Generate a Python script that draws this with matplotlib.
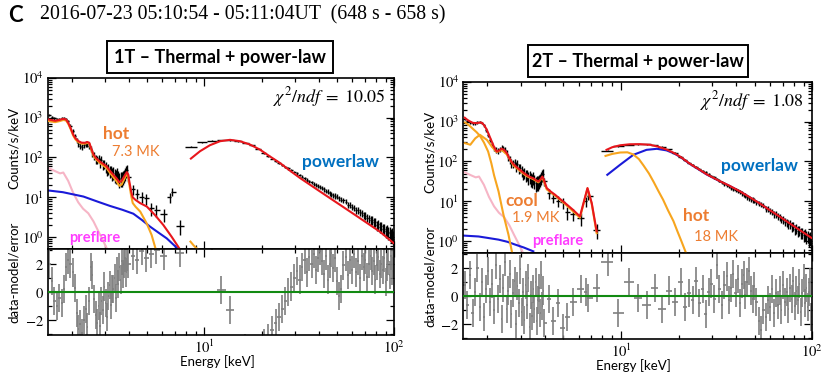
import numpy as np
import matplotlib
matplotlib.use('Agg')
import matplotlib.pyplot as plt
from matplotlib.ticker import FixedLocator, NullFormatter, FuncFormatter, MultipleLocator, FixedFormatter
from matplotlib.patches import Rectangle

plt.rcParams['mathtext.fontset'] = 'stix'
plt.rcParams['font.family'] = ['Lato', 'DejaVu Sans']

# ---------------- data (shared by both fits) ----------------
energy_lo = [1.525, 1.575, 1.625, 1.675, 1.725, 1.775, 1.825, 1.875, 1.925, 1.975,
             2.025, 2.075, 2.125, 2.175, 2.225, 2.275, 2.325, 2.375, 2.425, 2.475,
             2.525, 2.575, 2.625, 2.675, 2.725, 2.775, 2.825, 2.875, 2.925, 2.975,
             3.025, 3.075, 3.125, 3.175, 3.225, 3.275, 3.325, 3.375, 3.425, 3.475,
             3.525, 3.575, 3.625, 3.675, 3.725, 3.775, 3.825, 3.875, 3.925, 3.975,
             4.2, 4.4, 4.7, 4.95, 5.25, 5.6, 6.15, 6.6, 6.75, 7.45]
counts_lo = [1150, 1020, 950, 900, 900, 950, 980, 930, 800, 620,
             460, 350, 270, 215, 195, 185, 200, 220, 215, 195,
             165, 130, 110, 92, 88, 95, 75, 88, 68, 70,
             58, 50, 52, 45, 47, 40, 42, 37, 35, 40,
             33, 29, 31, 30, 33, 36, 40, 46, 48, 32,
             16, 12.5, 10.5, 9.5, 5.4, 4.8, 3.8, 10, 14, 1.95]
energy_hi = [8.5, 9.7, 11.0, 12.3, 13.6, 15.0, 16.4, 17.8, 19.2, 20.6,
             21.7, 22.7, 23.7, 24.7, 25.7, 26.7, 27.7, 28.7, 29.7, 30.7,
             31.7, 32.7, 33.7, 34.7, 35.7, 36.7, 37.7, 38.7, 39.7, 40.7,
             41.7, 42.7, 43.7, 44.7, 45.7, 46.7, 47.7, 48.7, 49.7, 51.0,
             52.5, 54.0, 55.5, 57.0, 58.5, 60.0, 61.5, 63.0, 64.5, 66.0,
             67.5, 69.0, 70.5, 72.0, 73.5, 75.0, 76.5, 78.0, 79.5, 81.0,
             82.5, 84.0, 85.5, 87.0, 88.5, 90.0, 91.5, 93.0, 94.5, 96.0,
             97.5, 99.0]
counts_hi = [188, 240, 262, 270, 268, 255, 232, 200, 165, 130,
             108, 94, 82, 73, 66, 59, 53, 48, 43.5, 40,
             36.5, 33, 30.5, 27.5, 25.5, 24, 22, 20.5, 19, 18.2,
             17, 16, 14.5, 14, 12.6, 12.2, 11.2, 11, 10.5, 9.6,
             8.8, 8.4, 7.8, 6.6, 6.6, 5.8, 5.5, 4.8, 4.7, 4.2,
             4.0, 3.6, 3.5, 3.1, 3.0, 2.75, 2.7, 2.35, 2.4, 2.05,
             2.1, 1.85, 1.9, 1.65, 1.65, 1.45, 1.5, 1.3, 1.38, 1.15,
             1.25, 1.05]
live_time_s = 4.0

# ---------------- residuals ----------------
resid1_lo = [2.0, 0.8, -0.6, -1.0, -0.4, -0.8, 0.2, 1.8, 2.3, 2.0,
             1.4, 0.3, -1.5, -2.6, -2.3, -2.9, -2.0, -1.2, -2.5, -0.6,
             1.8, 1.2, -0.5, -1.6, -2.2, -1.0, -2.4, -0.6, -1.3, 0.4,
             -0.8, -1.8, -0.3, 0.5, -0.9, 0.2, 0.2, 1.0, -0.4, 1.5,
             0.6, 1.8, 0.9, 2.2, 1.3, 2.0, 2.4, 1.4, 2.5, 2.0,
             2.6, 2.3, 2.9, 2.4, 2.7, 3.0, 2.6, 4.5, 5.0, 2.8]
resid1_hi = [6.0, 5.0, 4.0, 0.15, -1.25, 4.0, -4.0, -5.0, -5.0, -3.6,
             -3.3, -2.7, -2.2, -1.8, -1.2, -0.6, 0.0, 0.4, 1.0, 1.5,
             0.9, 1.8, 2.3, 1.4, 2.5, 2.0, 2.7, 1.6, 2.4, 2.9,
             2.2, 1.3, 2.6, 0.9, 2.0, 2.8, 1.7, 2.4, 0.8, -0.3,
             0.2, 1.9, 2.5, 1.2, 2.3, 1.6, 2.7, 1.4, 2.2, 1.0,
             2.6, 1.8, 2.3, 1.1, 2.0, 2.6, 1.5, 2.2, 0.9, 1.9,
             2.5, 1.3, 2.0, 1.6, 2.4, 0.7, 1.8, 2.2, 1.2, 2.6,
             1.5, 2.0]
resid2_lo = [0.8, -0.6, 1.5, -1.2, 0.3, 2.0, -0.8, 1.0, -1.5, 0.5,
             1.8, -0.4, 0.9, -1.0, 2.2, -0.2, 1.2, -1.6, 0.6, 2.4,
             -0.9, 0.4, 1.6, -1.3, 0.2, 1.1, -2.0, 0.7, -0.5, 1.9,
             -1.1, 0.3, -1.7, 0.8, -0.6, 1.3, -2.2, 0.1, -1.4, 0.5,
             -0.9, 1.0, -1.8, -0.3, 0.6, -1.2, 1.5, -0.7, 0.4, -1.9,
             -0.2, -1.8, -0.5, -2.3, -1.5, -0.4, 0.5, 0.3, -0.1, 0.6]
resid2_hi = [2.4, -1.2, 1.0, -0.1, -0.6, 0.6, -0.9, 0.4, -0.4, 1.0,
             -0.8, 0.2, -0.3, 1.1, -0.5, 0.5, -1.3, 0.3, 0.9, -0.2,
             2.2, 0.5, -0.6, 0.8, 1.4, -0.3, 0.6, 1.6, 0.2, 1.2,
             -0.5, 0.9, 1.5, 0.1, 1.0, 1.8, 0.4, -0.2, 0.7, -0.4,
             -1.8, -2.4, -1.0, -1.5, -0.3, -0.8, 0.5, -1.2, 0.2, -0.6,
             0.4, -1.0, 0.8, -0.4, 0.3, -0.9, 0.6, -0.2, 1.1, -0.7,
             0.4, -0.3, 0.9, -1.1, 0.2, 1.3, -0.5, 0.6, -0.8, 0.3,
             1.0, -1.5]

# ---------------- model curves: 1T fit ----------------
m1_total_lo_e = [1.51, 1.58, 1.64, 1.72, 1.81, 1.87, 1.92, 1.98, 2.04, 2.1, 2.17, 2.26, 2.36, 2.42,
                 2.48, 2.55, 2.61, 2.7, 2.83, 2.95, 3.06, 3.19, 3.32, 3.45, 3.57, 3.67, 3.75, 3.83,
                 3.91, 3.97, 4.03, 4.12, 4.2, 4.35, 4.59, 4.98, 5.5, 6.08, 6.73, 7.38]
m1_total_lo_c = [900, 860, 830, 870, 930, 900, 745, 540, 377, 300, 258, 235, 234, 245,
                 234, 160, 118, 95, 78, 68, 60, 46, 37, 30, 24, 26, 31, 37,
                 43, 38, 25, 14, 10, 8.6, 7.2, 5.9, 3.6, 2.04, 1.03, 0.53]
m1_hot_lo_e = [1.51, 1.58, 1.64, 1.72, 1.81, 1.87, 1.92, 1.98, 2.04, 2.1, 2.17, 2.26, 2.36, 2.42,
               2.48, 2.55, 2.61, 2.7, 2.83, 2.95, 3.06, 3.19, 3.32, 3.45, 3.57, 3.67, 3.75, 3.83,
               3.91, 3.97, 4.03, 4.12, 4.2, 4.35, 4.6, 4.98, 5.28, 5.55]
m1_hot_lo_c = [820, 790, 770, 810, 870, 850, 705, 510, 355, 282, 243, 222, 222, 233,
               222, 150, 110, 88, 72, 62, 54, 41, 32, 25.5, 19.5, 21, 26, 32,
               38.5, 33, 21, 11, 7.2, 5.8, 4.4, 2.2, 1.14, 0.5]
m1_hot_hi_e = [8.45, 8.8, 9.3]
m1_hot_hi_c = [0.78, 0.62, 0.48]
m1_pl_lo_e = [1.51, 1.8, 2.31, 2.75, 3.19, 3.7, 4.23, 4.7, 5.18, 5.75, 6.34, 7.15]
m1_pl_lo_c = [14.9, 13.5, 10.5, 7.8, 6.1, 4.9, 3.9, 2.7, 1.85, 1.3, 0.94, 0.55]
m1_total_hi_e = [8.5, 9.5, 10.7, 12.1, 13.65, 15.4, 17.4, 19.6, 22.1, 25.0, 28.2, 31.9,
                 40.6, 51.8, 66.0, 84.0, 99.0]
m1_total_hi_c = [94, 144, 203, 256, 277, 256, 211, 158, 107, 73, 47, 30.6,
                 14.1, 6.5, 3.0, 1.38, 0.72]

# ---------------- model curves: 2T fit ----------------
m2_total_lo_e = [1.525, 1.575, 1.63, 1.68, 1.76, 1.83, 1.87, 1.93, 1.99, 2.05, 2.11, 2.17, 2.24,
                 2.31, 2.38, 2.45, 2.53, 2.6, 2.67, 2.74, 2.85, 2.96, 3.08, 3.21, 3.34, 3.48,
                 3.6, 3.7, 3.8, 3.88, 3.95, 4.09, 4.3, 4.52, 4.8, 5.1, 5.6, 6.1, 6.68, 7.03, 7.46]
m2_total_lo_c = [1250, 1100, 1000, 930, 915, 945, 940, 800, 620, 440, 316, 230, 178,
                 190, 209, 195, 162, 125, 100, 86, 72, 62, 53, 46, 41, 38,
                 34, 31.6, 36, 42, 35, 21.6, 17.5, 14.7, 11.5, 9.1, 6.2, 4.2, 21.6, 9.1, 1.78]
m2_cool_e = [1.53, 1.6, 1.68, 1.76, 1.83, 1.92, 2.02, 2.1, 2.17, 2.29, 2.43, 2.58, 2.7]
m2_cool_c = [950, 820, 660, 540, 440, 300, 178, 90, 45, 17.8, 4.6, 1.47, 0.5]
m2_hot_lo_e = [1.53, 1.63, 1.73, 1.83, 1.99, 2.11, 2.24, 2.38, 2.53, 2.74, 2.96, 3.21, 3.48,
               3.7, 3.88, 4.09, 4.52, 5.1, 6.1, 6.68, 7.03, 7.46]
m2_hot_lo_c = [288, 263, 380, 466, 348, 237, 172, 195, 150, 80, 58, 43, 36,
               30, 40, 20, 14, 8.6, 3.9, 21, 8.6, 1.6]
m2_hot_hi_e = [8.3, 9.0, 9.9, 10.8, 11.6, 12.4, 13.1, 14.0, 14.8, 15.7, 16.6, 17.6, 18.8,
               19.7, 20.7, 21.9]
m2_hot_hi_c = [138, 155, 168, 170, 150, 115, 80, 50, 31, 18, 11, 6, 3.2, 1.8, 1.0, 0.5]
m2_pl_lo_e = [1.5, 1.8, 2.0, 2.29, 2.55, 2.79, 3.1, 3.48]
m2_pl_lo_c = [1.39, 1.32, 1.22, 1.1, 0.97, 0.83, 0.7, 0.56]
m2_pl_hi_e = [8.48, 9.9, 11.6, 13.6, 15.4, 17.3, 19.0, 20.5, 22.9, 25.5, 28, 32.9, 37, 41.9,
              47, 53.3, 60, 67.8, 75, 82.8, 90, 99]
m2_pl_hi_c = [46.4, 83, 147, 196, 208, 190, 158, 128, 87, 63, 47.5, 31.8, 24.3, 17.7,
              12.7, 8.75, 5.95, 4.1, 2.95, 2.15, 1.65, 1.22]
m2_total_hi_e = [8.4, 9.0, 9.9, 11.1, 12.5, 14.2, 15.5, 17.3, 19.0, 20.5, 22.9, 25.5, 28, 32.9,
                 37, 41.9, 47, 53.3, 60, 67.8, 75, 82.8, 90, 99]
m2_total_hi_c = [196, 228, 255, 270, 272, 262, 238, 200, 162, 130, 88, 64, 48, 32,
                 24.5, 17.8, 12.8, 8.8, 6.0, 4.1, 2.95, 2.15, 1.65, 1.22]

# preflare (same in both fits)
preflare_e = [1.52, 1.63, 1.74, 1.81, 1.92, 2.04, 2.17, 2.3, 2.45, 2.61, 2.76, 2.94, 3.08]
preflare_c = [54, 46, 40, 42, 26, 13, 7.5, 5.2, 4.0, 2.5, 1.45, 0.8, 0.5]

# ---------------- style ----------------
RED = '#e8161c'
ORANGE = '#f7a51e'
BLUE = '#1a1ad8'
PINK = '#f6b5c6'
GRAY = '#7f7f7f'
GREEN = '#128a12'
TXT_OR = '#ed7d31'
TXT_BL = '#0070c0'
TXT_MG = '#ff3dff'

W, H = 830, 373
fig = plt.figure(figsize=(W / 100, H / 100), dpi=100)


def px_axes(l, t, r, b):
    return fig.add_axes([l / W, 1 - b / H, (r - l) / W, (b - t) / H])


def halfwidths(e):
    e = np.asarray(e, float)
    mids = 0.5 * (e[1:] + e[:-1])
    lo = np.empty_like(e)
    hi = np.empty_like(e)
    lo[1:] = e[1:] - mids
    hi[:-1] = mids - e[:-1]
    lo[0] = hi[0]
    hi[-1] = lo[-1]
    return np.vstack([lo, hi])


def poisson_err(e, c):
    c = np.asarray(c, float)
    hw = halfwidths(e)
    bw = hw[0] + hw[1]
    n = c * live_time_s * bw
    err = c / np.sqrt(n)
    lower = np.minimum(err, c * 0.999)
    return np.vstack([lower, err])


def style_axes(ax):
    for s in ax.spines.values():
        s.set_linewidth(1.2)
    ax.tick_params(which='both', direction='in', top=True, right=True, width=0.9)
    ax.tick_params(which='major', length=5.5)
    ax.tick_params(which='minor', length=2.8)


xmajor = FixedLocator([10, 100])
xminor = FixedLocator([2, 3, 4, 5, 6, 7, 8, 9, 20, 30, 40, 50, 60, 70, 80, 90])

panels = [
    dict(l=47.8, r=394.3, t=77.7, m=249.3, b=335.0,
         resid_lo=resid1_lo, resid_hi=resid1_hi,
         chi=r'$\chi^2/ndf\;=\;10.05$',
         title='1T – Thermal + power-law', box=(107, 41, 333, 73)),
    dict(l=463.4, r=812.3, t=81.7, m=253.3, b=339.0,
         resid_lo=resid2_lo, resid_hi=resid2_hi,
         chi=r'$\chi^2/ndf\;=\;1.08$',
         title='2T – Thermal + power-law', box=(528, 45, 748, 77)),
]

lw = 1.5
for k, P in enumerate(panels):
    ax = px_axes(P['l'], P['t'], P['r'], P['m'])
    axr = px_axes(P['l'], P['m'], P['r'], P['b'])
    for a in (ax, axr):
        a.set_xscale('log')
        a.set_xlim(1.5, 100)
        a.xaxis.set_major_locator(xmajor)
        a.xaxis.set_minor_locator(xminor)
        a.xaxis.set_minor_formatter(NullFormatter())
        style_axes(a)
    ax.xaxis.set_major_formatter(NullFormatter())
    axr.xaxis.set_major_formatter(FuncFormatter(lambda v, p: r'$10^{%d}$' % round(np.log10(v))))

    ax.set_yscale('log')
    ax.set_ylim(0.5, 1e4)
    ax.yaxis.set_major_locator(FixedLocator([1, 10, 100, 1000, 10000]))
    ax.yaxis.set_minor_locator(FixedLocator([m * 10.0 ** d for d in range(-1, 4) for m in range(2, 10)]))
    ax.yaxis.set_minor_formatter(NullFormatter())
    ax.yaxis.set_major_formatter(FuncFormatter(lambda v, p: r'$10^{%d}$' % round(np.log10(v))))

    axr.set_ylim(-3.05, 3.05)
    axr.yaxis.set_major_locator(FixedLocator([-2, 0, 2]))
    axr.yaxis.set_major_formatter(FixedFormatter([r'$-2$', r'$0$', r'$2$']))
    axr.yaxis.set_minor_locator(MultipleLocator(1))

    for a in (ax, axr):
        for lab in a.get_xticklabels() + a.get_yticklabels():
            lab.set_fontsize(10.5)
        a.tick_params(which='major', pad=3)

    # data
    for e, c in ((energy_lo, counts_lo), (energy_hi, counts_hi)):
        ax.errorbar(e, c, xerr=halfwidths(e), yerr=poisson_err(e, c), fmt='none',
                    ecolor='black', elinewidth=1.0, capsize=0, zorder=3)

    # models
    if k == 0:
        ax.plot(preflare_e, preflare_c, color=PINK, lw=lw, zorder=2)
        ax.plot(m1_pl_lo_e, m1_pl_lo_c, color=BLUE, lw=lw, zorder=2)
        ax.plot(m1_hot_lo_e, m1_hot_lo_c, color=ORANGE, lw=lw, zorder=4)
        ax.plot(m1_hot_hi_e, m1_hot_hi_c, color=ORANGE, lw=lw, zorder=4)
        ax.plot(m1_total_lo_e, m1_total_lo_c, color=RED, lw=lw, zorder=5)
        ax.plot(m1_total_hi_e, m1_total_hi_c, color=RED, lw=lw, zorder=5)
    else:
        ax.plot(preflare_e, preflare_c, color=PINK, lw=lw, zorder=2)
        ax.plot(m2_pl_lo_e, m2_pl_lo_c, color=BLUE, lw=lw, zorder=2)
        ax.plot(m2_pl_hi_e, m2_pl_hi_c, color=BLUE, lw=lw, zorder=2)
        ax.plot(m2_cool_e, m2_cool_c, color=ORANGE, lw=lw, zorder=4)
        ax.plot(m2_hot_lo_e, m2_hot_lo_c, color=ORANGE, lw=lw, zorder=4)
        ax.plot(m2_hot_hi_e, m2_hot_hi_c, color=ORANGE, lw=lw, zorder=4)
        ax.plot(m2_total_lo_e, m2_total_lo_c, color=RED, lw=lw, zorder=5)
        ax.plot(m2_total_hi_e, m2_total_hi_c, color=RED, lw=lw, zorder=5)

    # residuals
    for e, r in ((energy_lo, P['resid_lo']), (energy_hi, P['resid_hi'])):
        axr.errorbar(e, r, xerr=halfwidths(e), yerr=1.0, fmt='none',
                     ecolor=GRAY, elinewidth=1.2, capsize=0, zorder=2)
    axr.axhline(0, color=GREEN, lw=1.5, zorder=3)

    # chi2 text
    ax.text(0.975, 0.89, P['chi'], transform=ax.transAxes, ha='right', va='center',
            fontsize=13)

    # title box
    bx0, by0, bx1, by1 = P['box']
    fig.patches.append(Rectangle((bx0 / W, 1 - by1 / H), (bx1 - bx0) / W, (by1 - by0) / H,
                                 transform=fig.transFigure, fill=False, edgecolor='black',
                                 lw=1.4))
    fig.text((bx0 + bx1) / 2 / W, 1 - (by0 + by1) / 2 / H, P['title'], ha='center',
             va='center', fontsize=13, fontweight='bold')

    # axis labels
    lx = P['l'] - 33.5
    fig.text(lx / W, 1 - (P['t'] + 70) / H, 'Counts/s/keV', rotation=90, ha='center',
             va='center', fontsize=9.5)
    fig.text(lx / W, 1 - (P['m'] + 23) / H, 'data-model/error', rotation=90, ha='center',
             va='center', fontsize=9.5)
    fig.text((P['l'] + 170) / W, 1 - (P['b'] + 27) / H, 'Energy [keV]', ha='center',
             va='center', fontsize=9.5)

# annotations (pixel positions)
def ptxt(x, y, s, color, size, weight='normal'):
    fig.text(x / W, 1 - y / H, s, color=color, fontsize=size, fontweight=weight,
             ha='left', va='center')

ptxt(103, 134, 'hot', TXT_OR, 12.5, 'bold')
ptxt(112, 152, '7.3 MK', TXT_OR, 10.5)
ptxt(302, 162, 'powerlaw', TXT_BL, 12.5, 'bold')
ptxt(69, 238, 'preflare', TXT_MG, 10.5, 'bold')

ptxt(721, 166, 'powerlaw', TXT_BL, 12.5, 'bold')
ptxt(683, 216, 'hot', TXT_OR, 12.5, 'bold')
ptxt(694, 237, '18 MK', TXT_OR, 10.5)
ptxt(505, 201, 'cool', TXT_OR, 12.5, 'bold')
ptxt(512, 218, '1.9 MK', TXT_OR, 10.5)
ptxt(532, 241, 'preflare', TXT_MG, 10.5, 'bold')

# header
fig.text(8 / W, 1 - 15 / H, 'C', fontsize=16, fontweight='bold', ha='left', va='center')
fig.text(40 / W, 1 - 15 / H, '2016-07-23 05:10:54 - 05:11:04UT  (648 s - 658 s)',
         fontsize=14.3, family='Liberation Serif', ha='left', va='center')

fig.savefig('out.png', dpi=100)
